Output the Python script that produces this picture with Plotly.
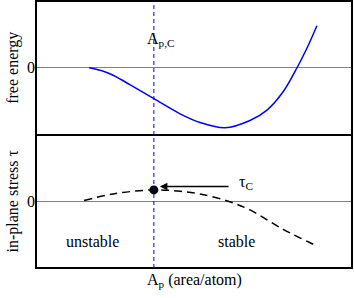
import plotly.graph_objects as go
from plotly.subplots import make_subplots

# Data (arbitrary units)
x_energy = [1.68, 2.06, 2.44, 2.69, 2.97, 3.73, 4.56, 5.19, 5.98, 6.77, 7.31, 7.82, 8.26, 8.58, 8.89]
free_energy = [0.0, -0.042, -0.112, -0.176, -0.254, -0.463, -0.69, -0.82, -0.90, -0.79, -0.634, -0.36, 0.0, 0.30, 0.63]
x_stress = [1.52, 2.44, 3.73, 4.56, 5.19, 6.08, 6.77, 7.82, 8.89]
stress = [0.01, 0.11, 0.17, 0.15, 0.11, 0.0, -0.13, -0.42, -0.67]
a_pc = 3.73
tau_c = 0.17

FONT = "Liberation Serif"
fig = make_subplots(rows=2, cols=1, shared_xaxes=True, vertical_spacing=0)

fig.add_trace(go.Scatter(x=x_energy, y=free_energy, mode="lines",
                         line=dict(color="#0000ff", width=1.5, shape="spline", smoothing=1.0),
                         showlegend=False), row=1, col=1)
fig.add_trace(go.Scatter(x=x_stress, y=stress, mode="lines",
                         line=dict(color="black", width=1.5, dash="8px,5px", shape="spline", smoothing=1.0),
                         showlegend=False), row=2, col=1)
fig.add_trace(go.Scatter(x=[a_pc], y=[tau_c], mode="markers", marker=dict(color="black", size=9),
                         showlegend=False), row=2, col=1)

ax = dict(range=[0, 10], showgrid=False, zeroline=False, showline=False, showticklabels=False, ticks="")
fig.update_xaxes(**ax)
ay = dict(range=[-1, 1], showgrid=False, zeroline=True, zerolinecolor="#808080", zerolinewidth=1,
          showline=False, ticks="", automargin=False,
          tickvals=[0], ticktext=["0"], tickfont=dict(family=FONT, size=16, color="black"))
fig.update_yaxes(**ay)
tfont = dict(family=FONT, size=16, color="black")
fig.update_yaxes(title=dict(text="free energy", font=tfont, standoff=4), row=1, col=1)
fig.update_yaxes(title=dict(text="in-plane stress τ", font=tfont, standoff=4), row=2, col=1)

# frame and divider
fig.add_shape(type="rect", xref="paper", yref="paper", x0=0, x1=1, y0=0, y1=1,
              line=dict(color="black", width=2), layer="above")
fig.add_shape(type="line", xref="paper", yref="paper", x0=0, x1=1, y0=0.498, y1=0.498,
              line=dict(color="black", width=2), layer="above")

# vertical dashed line at A_p,C
fig.add_shape(type="line", xref="x", yref="paper", x0=a_pc, x1=a_pc, y0=0, y1=1,
              line=dict(color="#0000ff", width=1, dash="4px,3px"), layer="above")

# arrow to tau_C
fig.add_annotation(x=3.92, y=0.22, ax=6.14, ay=0.22, xref="x2", yref="y2", axref="x2", ayref="y2",
                   showarrow=True, arrowhead=2, arrowsize=1, arrowwidth=1.5, arrowcolor="black", text="")

ann_font = dict(family=FONT, size=16, color="black")
fig.add_annotation(x=6.65, y=0.28, xref="x2", yref="y2", text="τ<sub>C</sub>", showarrow=False, font=ann_font)
fig.add_annotation(x=3.95, y=0.42, xref="x", yref="y", text="A<sub>p,C</sub>", showarrow=False, font=ann_font)
fig.add_annotation(x=1.8, y=-0.6, xref="x2", yref="y2", text="unstable", showarrow=False, font=ann_font)
fig.add_annotation(x=6.33, y=-0.6, xref="x2", yref="y2", text="stable", showarrow=False, font=ann_font)
fig.add_annotation(x=0.5, y=-0.045, xref="paper", yref="paper", text="A<sub>p</sub> (area/atom)",
                   showarrow=False, font=ann_font, xanchor="center", yanchor="middle")

fig.update_layout(width=354, height=298, margin=dict(l=36, r=2, t=1, b=30),
                  paper_bgcolor="white", plot_bgcolor="white", font=ann_font)
fig.write_html("out.html", config={"displayModeBar": False},
               post_script="document.body.style.margin='0';")
